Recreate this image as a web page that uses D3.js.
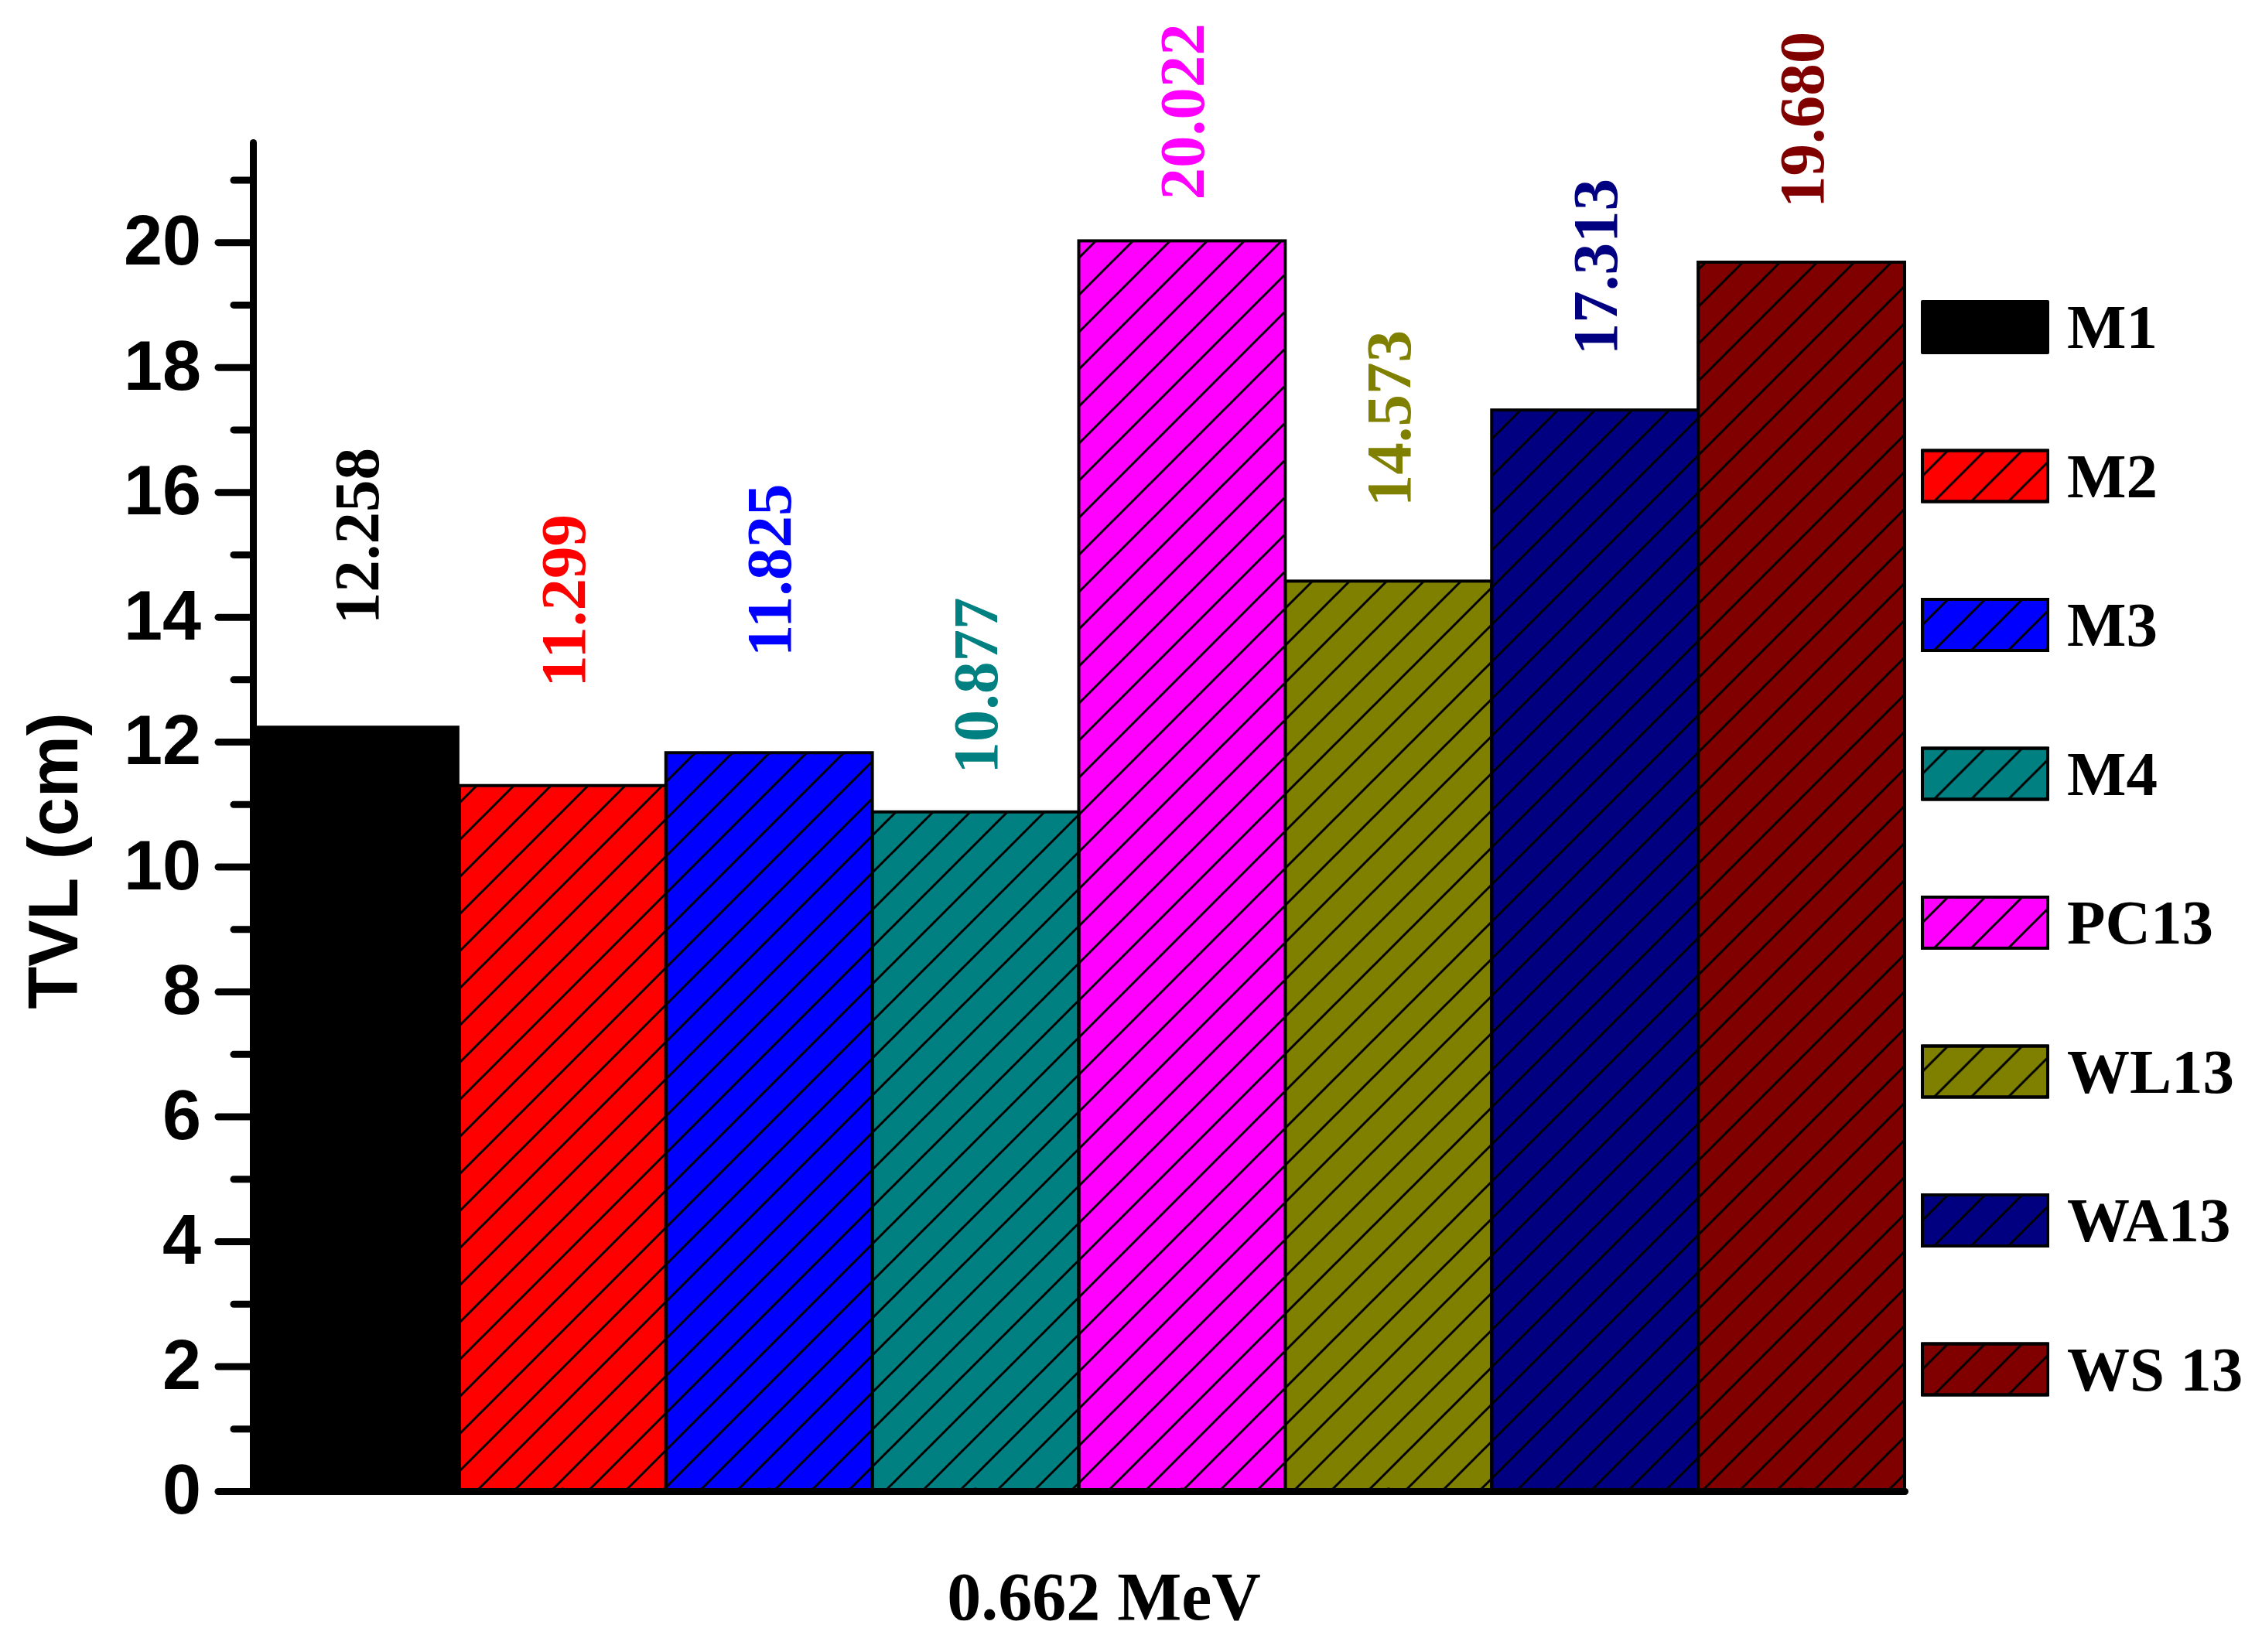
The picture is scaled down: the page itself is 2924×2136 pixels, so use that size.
<!DOCTYPE html>
<html>
<head>
<meta charset="utf-8">
<script src="https://cdn.jsdelivr.net/npm/d3@7/dist/d3.min.js"></script>
<style>
  body { margin: 0; background: #fff; }
</style>
</head>
<body>
<script>
// DATA
const materials = ['M1', 'M2', 'M3', 'M4', 'PC13', 'WL13', 'WA13', 'WS13']
const legendNames = ['M1', 'M2', 'M3', 'M4', 'PC13', 'WL13', 'WA13', 'WS 13']
const tvl = [12.258, 11.299, 11.825, 10.877, 20.022, 14.573, 17.313, 19.680]
const valueLabels = ['12.258', '11.299', '11.825', '10.877', '20.022', '14.573', '17.313', '19.680']
const hatched = [false, true, true, true, true, true, true, true]
const majorTicks = [0, 2, 4, 6, 8, 10, 12, 14, 16, 18, 20]
const minorTicks = [1, 3, 5, 7, 9, 11, 13, 15, 17, 19, 21]
const yMax = 21.6
const xTitle = '0.662 MeV'
const yTitle = 'TVL (cm)'

// COLORS
const black = '#000000'
const barColors = ['#000000', '#ff0000', '#0000ff', '#008080', '#ff00ff', '#808000', '#000080', '#800000']

// LAYOUT
const width = 2924, height = 2136
const plot = {left: 327, right: 2462, top: 184, bottom: 1928}
// hand placed gaps between bar top and its rotated label (px)
const labelGap = [131, 127, 124, 49, 53, 96, 71, 70]

const serif = '"Liberation Serif", "Times New Roman", serif'
const sans = '"Liberation Sans", Arial, sans-serif'

// SCALES
var x = d3.scaleBand()
    .domain(materials)
    .range([plot.left, plot.right])
    .padding(0)

var y = d3.scaleLinear()
    .domain([0, yMax])
    .range([plot.bottom, plot.top])

var svg = d3.select('body').append('svg')
    .attr('width', width)
    .attr('height', height)
    .style('background', '#fff')

// hatch pattern "/"
var defs = svg.append('defs')
defs.append('pattern')
    .attr('id', 'hatch')
    .attr('patternUnits', 'userSpaceOnUse')
    .attr('width', 48)
    .attr('height', 48)
  .append('path')
    .attr('d', 'M-12,12L12,-12M0,48L48,0M36,60L60,36')
    .attr('stroke', black)
    .attr('stroke-width', 3)

var data = materials.map(function(m, i) {
  return {name: m, value: tvl[i], label: valueLabels[i], color: barColors[i], hatch: hatched[i], gap: labelGap[i]}
})

// BARS
var bars = svg.append('g').attr('class', 'bars')

bars.selectAll('rect.fill')
  .data(data)
  .enter().append('rect')
    .attr('class', 'fill')
    .attr('x', function(d) { return x(d.name) })
    .attr('y', function(d) { return y(d.value) })
    .attr('width', x.bandwidth())
    .attr('height', function(d) { return y(0) - y(d.value) })
    .attr('fill', function(d) { return d.color })

bars.selectAll('rect.hatch')
  .data(data.filter(function(d) { return d.hatch }))
  .enter().append('rect')
    .attr('class', 'hatch')
    .attr('x', function(d) { return x(d.name) })
    .attr('y', function(d) { return y(d.value) })
    .attr('width', x.bandwidth())
    .attr('height', function(d) { return y(0) - y(d.value) })
    .attr('fill', 'url(#hatch)')
    .attr('stroke', black)
    .attr('stroke-width', 4)

// value labels
svg.append('g').selectAll('text')
  .data(data)
  .enter().append('text')
    .attr('transform', function(d) {
      return `translate(${x(d.name) + x.bandwidth() / 2},${y(d.value) - d.gap}) rotate(-90)`
    })
    .attr('dy', '0.34em')
    .attr('text-anchor', 'start')
    .attr('fill', function(d) { return d.color })
    .style('font-family', serif)
    .style('font-weight', 'bold')
    .style('font-size', '83px')
    .text(function(d) { return d.label })

// AXES
var yAxis = svg.append('g')
    .attr('transform', `translate(${plot.left},0)`)
    .call(d3.axisLeft(y).tickValues(majorTicks).tickSize(45).tickSizeOuter(0).tickPadding(22))

var yMinor = svg.append('g')
    .attr('transform', `translate(${plot.left},0)`)
    .call(d3.axisLeft(y).tickValues(minorTicks).tickSize(25).tickSizeOuter(0).tickFormat(''))
yMinor.select('.domain').remove()

var xAxis = svg.append('g')
    .attr('transform', `translate(0,${plot.bottom})`)
    .call(d3.axisBottom(x).tickSize(0).tickSizeOuter(0).tickFormat(''))

svg.selectAll('.domain, .tick line')
    .attr('stroke', black)
    .attr('stroke-width', 9)
    .attr('stroke-linecap', 'round')

yAxis.selectAll('text')
    .attr('fill', black)
    .style('font-family', sans)
    .style('font-weight', 'bold')
    .style('font-size', '90px')

// titles
svg.append('text')
    .attr('transform', `translate(100,1113) rotate(-90)`)
    .attr('text-anchor', 'middle')
    .attr('fill', black)
    .style('font-family', sans)
    .style('font-weight', 'bold')
    .style('font-size', '90px')
    .text(yTitle)

svg.append('text')
    .attr('x', 1427)
    .attr('y', 2094)
    .attr('text-anchor', 'middle')
    .attr('fill', black)
    .style('font-family', serif)
    .style('font-weight', 'bold')
    .style('font-size', '88px')
    .text(xTitle)

// LEGEND
var legend = svg.append('g')
    .attr('class', 'legend')
    .attr('transform', 'translate(2485,423)')

var items = legend.selectAll('g')
  .data(data)
  .enter().append('g')
    .attr('transform', function(d, i) { return `translate(0,${i * 192.5})` })

items.append('rect')
    .attr('x', 0)
    .attr('y', -33)
    .attr('width', 162)
    .attr('height', 66)
    .attr('fill', function(d) { return d.color })
    .attr('stroke', black)
    .attr('stroke-width', 4)
    .attr('stroke-linejoin', 'round')

items.filter(function(d) { return d.hatch }).append('rect')
    .attr('x', 0)
    .attr('y', -33)
    .attr('width', 162)
    .attr('height', 66)
    .attr('fill', 'url(#hatch)')
    .attr('stroke', black)
    .attr('stroke-width', 4)

items.append('text')
    .attr('x', 187)
    .attr('y', 27)
    .attr('fill', black)
    .style('font-family', serif)
    .style('font-weight', 'bold')
    .style('font-size', '81px')
    .text(function(d, i) { return legendNames[i] })
</script>
</body>
</html>
